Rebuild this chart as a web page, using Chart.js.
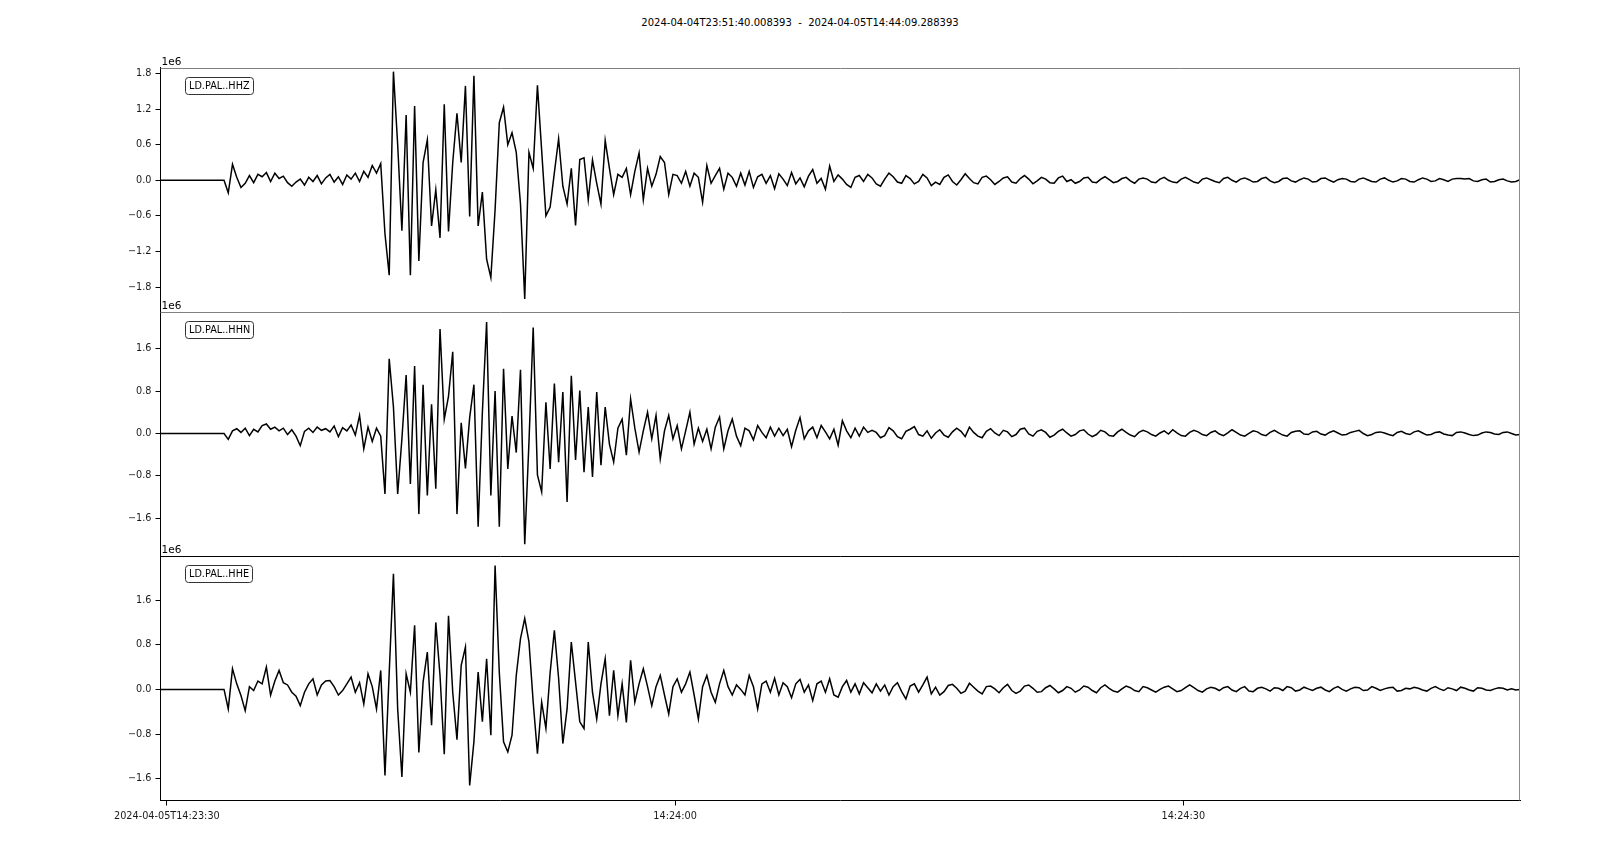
<!DOCTYPE html>
<html>
<head>
<meta charset="utf-8">
<title>LD.PAL waveforms</title>
<style>
  body { margin: 0; background: #fff; }
  #page { position: relative; width: 1600px; height: 845px; overflow: hidden; }
  .panel { position: absolute; left: 0; width: 1600px; }
  #title {
    position: absolute; left: 0; width: 1600px; top: 16.5px;
    text-align: center; font: 10px "DejaVu Sans", sans-serif; color: #000;
    white-space: pre;
  }
</style>
</head>
<body>
<div id="page">
  <div id="title">2024-04-04T23:51:40.008393  -  2024-04-05T14:44:09.288393</div>
  <div class="panel" style="top:40px;height:272px"><canvas id="chZ"></canvas></div>
  <div class="panel" style="top:290px;height:266px"><canvas id="chN"></canvas></div>
  <div class="panel" style="top:535px;height:310px"><canvas id="chE"></canvas></div>
</div>
<script src="https://cdn.jsdelivr.net/npm/chart.js"></script>
<script>
  // seconds after 14:23:30, one value every 0.25 s, amplitudes in units of 1e6
  const startTime = -0.375;
  const sampleStep = 0.25;
  const timeTicks = [0, 30, 60];
  const timeTickLabels = ["2024-04-05T14:23:30", "14:24:00", "14:24:30"];
  const channels = ["LD.PAL..HHZ", "LD.PAL..HHN", "LD.PAL..HHE"];

  const hhz = [
    0, 0, 0, 0, 0, 0, 0, 0,
    0, 0, 0, 0, 0, 0, 0, 0,
    -0.21, 0.27, 0.05, -0.12, -0.05, 0.08, -0.04, 0.10,
    0.06, 0.13, -0.02, 0.12, 0.03, 0.07, -0.04, -0.10,
    -0.03, 0.02, -0.08, 0.05, -0.02, 0.08, -0.06, 0.04,
    0.10, -0.03, 0.06, -0.07, 0.09, 0.02, 0.12, -0.02,
    0.15, 0.05, 0.25, 0.12, 0.28, -0.9, -1.6, 1.83,
    0.6, -0.85, 1.1, -1.6, 1.25, -1.36, 0.3, 0.68,
    -0.77, -0.16, -0.97, 1.28, -0.86, 0.3, 1.13, 0.3,
    1.59, -0.61, 1.76, -0.77, -0.2, -1.33, -1.64, -0.5,
    0.97, 1.23, 0.6, 0.8, 0.47, -0.4, -2.0, 0.47,
    0.2, 1.6, 0.5, -0.6, -0.45, 0.13, 0.70, -0.1,
    -0.4, 0.2, -0.76, 0.35, 0.38, -0.33, 0.34, -0.05,
    -0.40, 0.67, 0.2, -0.24, 0.1, 0.05, 0.2, -0.24,
    0.15, 0.46, -0.33, 0.2, -0.1, 0.1, 0.40, 0.3,
    -0.24, 0.1, 0.08, -0.05, 0.15, -0.1, 0.12, 0.05,
    -0.37, 0.25, -0.05, 0.08, 0.2, -0.15, 0.12, 0.05,
    -0.1, 0.12, -0.08, 0.15, -0.12, 0.06, 0.10, -0.05,
    0.08, -0.14, 0.11, 0.02, -0.09, 0.13, -0.06, 0.04,
    -0.11, 0.07, 0.18, -0.05, 0.03, -0.15, 0.24, -0.02,
    0.09, 0.02, -0.07, -0.12, 0.05, 0.08, -0.02, 0.10,
    0.04, -0.06, -0.10, 0.02, 0.12, 0.06, -0.03, -0.05,
    0.08, 0.03, -0.06, -0.02, 0.10, 0.04, -0.09, -0.03,
    -0.07, 0.05, 0.09, -0.02, -0.08, 0.01, 0.11, 0.03,
    -0.04, -0.06, 0.05, 0.07, 0.01, -0.07, -0.02, 0.04,
    0.06, -0.03, -0.05, 0.03, 0.08, 0.02, -0.06, -0.01,
    0.05, 0.02, -0.04, -0.05, 0.04, 0.07, -0.02, 0.01,
    -0.05, -0.02, 0.04, 0.05, -0.03, -0.04, 0.02, 0.06,
    0.01, -0.04, -0.02, 0.03, 0.05, -0.01, -0.05, 0.02,
    0.04, 0.02, -0.03, -0.04, 0.02, 0.05, 0.00, -0.03,
    -0.04, 0.02, 0.05, 0.01, -0.03, -0.05, 0.02, 0.04,
    0.01, -0.02, -0.04, 0.03, 0.05, 0.00, -0.03, 0.02,
    0.04, 0.01, -0.03, -0.02, 0.03, 0.05, -0.01, -0.04,
    -0.02, 0.03, 0.04, -0.01, -0.03, 0.01, 0.04, 0.02,
    -0.03, -0.02, 0.03, 0.04, 0.00, -0.03, 0.01, 0.03,
    0.02, -0.02, -0.03, 0.02, 0.04, 0.01, -0.02, -0.03,
    0.02, 0.04, 0.00, -0.03, -0.01, 0.03, 0.02, -0.02,
    -0.03, 0.01, 0.04, 0.02, -0.02, -0.01, 0.03, 0.01,
    -0.02, 0.02, 0.03, 0.03, 0.02, 0.03, -0.01, -0.02,
    0.01, 0.02, -0.03, -0.02, 0.01, 0.02, -0.01, -0.03,
    -0.02, 0.01
  ];

  const hhn = [
    0, 0, 0, 0, 0, 0, 0, 0,
    0, 0, 0, 0, 0, 0, 0, 0,
    -0.11, 0.05, 0.09, 0.02, 0.10, -0.04, 0.08, 0.03,
    0.15, 0.18, 0.08, 0.12, 0.05, 0.10, -0.02, 0.07,
    -0.05, -0.23, 0.04, 0.10, 0.02, 0.12, 0.06, 0.09,
    0.03, 0.14, -0.06, 0.11, 0.05, 0.16, -0.03, 0.34,
    -0.29, 0.12, -0.15, 0.10, -0.05, -1.14, 1.41, 0.5,
    -1.14, -0.1, 1.1, -0.95, 1.27, -1.52, 0.92, -1.17,
    0.55, -1.04, 1.97, 0.27, 0.7, 1.54, -1.52, 0.2,
    -0.66, 0.3, 0.92, -1.76, 0.4, 2.1, -1.17, 0.8,
    -1.76, 1.22, -0.67, 0.33, -0.36, 1.2, -2.09, -0.16,
    2.0, -0.78, -1.1, 0.59, -0.67, 0.94, -0.54, 0.78,
    -1.29, 1.09, -0.5, 0.81, -0.73, 0.5, -0.82, 0.78,
    -0.6, 0.5, -0.2, -0.54, 0.1, 0.27, -0.41, 0.65,
    0.1, -0.35, 0.05, 0.4, -0.1, 0.34, -0.48, 0.05,
    0.34, -0.1, 0.15, -0.29, 0.05, 0.4, -0.2, 0.1,
    -0.15, 0.08, -0.29, 0.12, 0.31, -0.29, 0.05, 0.27,
    -0.05, -0.23, 0.1, 0.05, -0.12, 0.15, 0.02, -0.08,
    0.12, -0.05, 0.1, -0.04, 0.08, -0.25, 0.06, 0.3,
    -0.1, 0.05, 0.12, -0.08, 0.15, 0.03, -0.1, 0.08,
    -0.22, 0.24, 0.05, -0.08, 0.1, -0.05, 0.12, 0.02,
    0.06, 0.02, -0.08, -0.04, 0.11, 0.05, -0.06, -0.1,
    0.04, 0.08, 0.13, -0.02, -0.05, 0.05, -0.09, 0.01,
    0.07, -0.03, -0.07, 0.03, 0.10, 0.04, -0.06, 0.12,
    0.02, -0.05, -0.08, 0.04, 0.09, 0.01, -0.04, 0.06,
    0.03, -0.06, -0.02, 0.08, 0.1, -0.01, -0.05, 0.04,
    0.07, 0.02, -0.07, -0.03, 0.04, 0.08, 0.01, -0.05,
    -0.02, 0.05, 0.07, -0.01, -0.06, -0.02, 0.06, 0.03,
    -0.04, -0.05, 0.03, 0.08, 0.02, -0.03, -0.06, 0.02,
    0.06, 0.03, -0.02, -0.05, 0.01, 0.05, -0.01, 0.07,
    0.01, -0.04, -0.05, 0.02, 0.06, 0.03, -0.02, -0.04,
    0.02, 0.05, -0.01, -0.04, 0.01, 0.07, 0.02, -0.03,
    -0.05, 0.0, 0.05, 0.03, -0.02, -0.04, 0.02, 0.06,
    0.01, -0.03, -0.05, 0.02, 0.04, 0.05, -0.01, -0.02,
    0.03, 0.04, -0.01, -0.03, 0.02, 0.05, 0.01, -0.03,
    -0.02, 0.02, 0.04, 0.06, 0.0, -0.04, -0.02, 0.02,
    0.03, 0.01, -0.02, -0.04, 0.02, 0.04, 0.0, -0.02,
    0.03, 0.05, 0.01, -0.03, -0.02, 0.02, 0.03, -0.01,
    -0.03, -0.04, 0.02, 0.03, 0.01, -0.02, -0.04, -0.03,
    0.01, 0.03, 0.02, -0.01, -0.02, 0.02, 0.03, 0.00,
    -0.03, -0.02
  ];

  const hhe = [
    0, 0, 0, 0, 0, 0, 0, 0,
    0, 0, 0, 0, 0, 0, 0, 0,
    -0.35, 0.37, 0.1, -0.11, -0.38, 0.05, -0.02, 0.15,
    0.1, 0.4, -0.1, 0.15, 0.34, 0.12, 0.08, -0.05,
    -0.12, -0.29, -0.05, 0.1, 0.19, -0.1, 0.08, 0.15,
    0.16, 0.05, -0.1, -0.02, 0.1, 0.22, -0.05, 0.12,
    -0.26, 0.28, 0.05, -0.35, 0.34, -1.54, 0.3, 2.07,
    -0.35, -1.57, 0.28, -0.05, 1.15, -1.13, 0.13, 0.67,
    -0.64, 1.2, 0.25, -1.16, 1.32, -0.05, -0.9, 0.43,
    0.76, -1.72, -0.94, 0.31, -0.58, 0.55, -0.82, 2.22,
    0.3, -0.94, -1.12, -0.82, 0.25, 0.91, 1.27, 0.85,
    -0.23, -1.15, -0.23, -0.7, 0.3, 1.06, 0.2, -0.97,
    -0.35, 0.85, 0.13, -0.58, -0.7, 0.85, -0.05, -0.53,
    0.1, 0.55, -0.47, 0.34, -0.47, 0.1, -0.59, 0.52,
    -0.23, 0.1, 0.37, 0.05, -0.29, 0.05, 0.25, -0.1,
    -0.44, 0.05, 0.19, -0.05, 0.1, 0.31, -0.1, -0.53,
    0.05, 0.25, -0.05, -0.23, 0.1, 0.34, 0.05, -0.1,
    0.08, 0.0, -0.1, 0.25, 0.05, -0.35, 0.1, 0.15,
    -0.05, 0.2, -0.1, 0.12, 0.05, -0.15, 0.1, 0.18,
    -0.05, 0.08, -0.2, 0.1, 0.15, -0.05, 0.19, -0.1,
    -0.14, 0.05, 0.16, -0.05, 0.1, -0.08, 0.12, 0.03,
    -0.06, 0.1, -0.03, 0.08, -0.1, 0.05, 0.12, -0.04,
    -0.17, 0.06, 0.1, -0.05, 0.08, 0.22, -0.08, 0.04,
    -0.1, -0.04, 0.07, 0.09, 0.02, -0.07, -0.03, 0.11,
    0.04, -0.03, -0.08, 0.05, 0.06, 0.01, -0.06, 0.03,
    0.09, -0.02, -0.07, -0.03, 0.06, 0.08, 0.02, -0.05,
    -0.04, 0.03, 0.07, 0.01, -0.06, -0.02, 0.05, 0.02,
    -0.05, -0.01, 0.06, 0.04, -0.02, -0.06, 0.03, 0.08,
    0.02, -0.03, -0.05, 0.01, 0.06, 0.03, -0.02, -0.04,
    0.05, 0.03, -0.01, -0.05, 0.0, 0.04, 0.06, 0.01,
    -0.04, -0.02, 0.03, 0.08, 0.03, -0.02, -0.05, 0.01,
    0.04, 0.02, -0.02, 0.03, 0.05, -0.01, -0.04, 0.02,
    0.05, -0.03, -0.04, 0.02, 0.04, 0.01, -0.03, 0.03,
    0.02, -0.02, 0.05, 0.03, -0.03, -0.01, 0.04, 0.01,
    -0.02, 0.02, 0.04, -0.01, -0.04, 0.02, 0.05, 0.0,
    -0.03, 0.01, 0.04, 0.03, -0.02, -0.01, 0.05, 0.02,
    -0.02, 0.01, 0.03, 0.04, -0.03, -0.02, 0.02, 0.01,
    0.04, 0.02, -0.01, -0.03, 0.02, 0.05, 0.01, -0.02,
    0.03, 0.01, -0.02, 0.04, 0.02, -0.01, -0.03, 0.03,
    0.02, -0.01, -0.02, 0.01, 0.03, 0.02, -0.01, 0.01,
    -0.01, 0.0
  ];

  const zTicks = [-1.8, -1.2, -0.6, 0, 0.6, 1.2, 1.8];
  const neTicks = [-1.6, -0.8, 0, 0.8, 1.6];

  const tickFont = { family: '"DejaVu Sans", sans-serif', size: 9.7 };

  // spines that chart.js does not draw, the 1e6 offset text and the trace label box
  const seismoDecor = {
    id: "seismoDecor",
    afterDraw(chart, args, opts) {
      const { ctx, chartArea: a } = chart;
      ctx.save();
      ctx.lineWidth = 1;
      const top = Math.round(a.top) + 0.5;
      const right = Math.round(a.right) - 0.5;
      ctx.strokeStyle = opts.topColor;
      ctx.beginPath();
      ctx.moveTo(a.left, top);
      ctx.lineTo(a.right, top);
      ctx.stroke();
      ctx.strokeStyle = "#8c8c8c";
      ctx.beginPath();
      ctx.moveTo(right, a.top);
      ctx.lineTo(right, a.bottom);
      ctx.stroke();

      ctx.fillStyle = "#000";
      ctx.font = '10.5px "DejaVu Sans", sans-serif';
      ctx.textAlign = "left";
      ctx.textBaseline = "alphabetic";
      ctx.fillText("1e6", a.left + 1, a.top - 3);

      ctx.font = '9.7px "DejaVu Sans", sans-serif';
      const w = Math.round(ctx.measureText(opts.label).width + 7);
      const bx = Math.round(a.left + 24) + 0.5;
      const by = Math.round(a.top + 9) + 0.5;
      ctx.beginPath();
      ctx.roundRect(bx, by, w, 17, 3);
      ctx.fillStyle = "#fff";
      ctx.fill();
      ctx.strokeStyle = "#333";
      ctx.stroke();
      ctx.fillStyle = "#000";
      ctx.textBaseline = "middle";
      ctx.fillText(opts.label, bx + 3.5, by + 9);
      ctx.restore();
    },
  };

  function makePanel(id, values, yMin, yMax, yTicks, label, topColor, padTop, padBottom, showX) {
    const points = values.map((v, i) => ({ x: startTime + i * sampleStep, y: v }));
    return new Chart(document.getElementById(id), {
      type: "line",
      data: {
        datasets: [
          {
            data: points,
            borderColor: "#000",
            borderWidth: 1.5,
            pointRadius: 0,
            tension: 0,
          },
        ],
      },
      options: {
        responsive: true,
        maintainAspectRatio: false,
        devicePixelRatio: 1,
        animation: false,
        events: [],
        layout: { padding: { top: padTop, bottom: padBottom, left: 0, right: 80 } },
        plugins: {
          legend: { display: false },
          tooltip: { enabled: false },
          seismoDecor: { label: label, topColor: topColor },
        },
        scales: {
          x: {
            type: "linear",
            display: showX,
            min: startTime,
            max: startTime + (values.length - 1) * sampleStep,
            afterBuildTicks: (s) => {
              s.ticks = timeTicks.map((v) => ({ value: v }));
            },
            afterFit: (s) => {
              s.height = showX ? 44.5 : 0;
              s.paddingLeft = 0;
              s.paddingRight = 0;
            },
            grid: { display: true, drawOnChartArea: false, drawTicks: true, tickLength: 5, color: "#000" },
            border: { display: true, color: "#000" },
            ticks: {
              font: tickFont,
              color: "#1a1a1a",
              padding: 5,
              maxRotation: 0,
              autoSkip: false,
              callback: (v) => timeTickLabels[timeTicks.indexOf(v)],
            },
          },
          y: {
            type: "linear",
            min: yMin,
            max: yMax,
            afterBuildTicks: (s) => {
              s.ticks = yTicks.map((v) => ({ value: v }));
            },
            afterFit: (s) => {
              s.width = 160.5;
              s.paddingTop = 0;
              s.paddingBottom = 0;
            },
            grid: { display: true, drawOnChartArea: false, drawTicks: true, tickLength: 5, color: "#000" },
            border: { display: true, color: "#000" },
            ticks: {
              font: tickFont,
              color: "#1a1a1a",
              padding: 4,
              callback: (v) => (v < 0 ? "\u2212" : "") + Math.abs(v).toFixed(1),
            },
          },
        },
      },
      plugins: [seismoDecor],
    });
  }

  makePanel("chZ", hhz, -2.21, 1.90, zTicks, channels[0], "#808080", 27.5, 0.5, false);
  makePanel("chN", hhn, -2.31, 2.30, neTicks, channels[1], "#808080", 21.5, 0, false);
  makePanel("chE", hhe, -1.99, 2.39, neTicks, channels[2], "#000", 21, 0, true);
</script>
</body>
</html>
